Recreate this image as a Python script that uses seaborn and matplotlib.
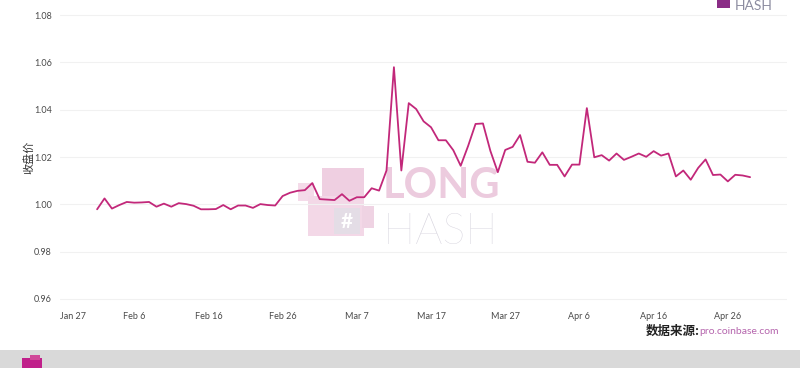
import matplotlib
matplotlib.use("Agg")
import matplotlib.pyplot as plt
import matplotlib.dates as mdates
from matplotlib.patches import Rectangle
import seaborn as sns
import pandas as pd

# -----------------------------
# data (daily close)
# -----------------------------
start_date = "2020-02-01"
end_date = "2020-04-29"
close_price = [
    0.9979, 1.0025, 0.9982, 0.9997, 1.0010, 1.0007, 1.0008, 1.0010, 0.9990, 1.0003,
    0.9990, 1.0005, 1.0001, 0.9994, 0.9979, 0.9979, 0.9980, 0.9997, 0.9979, 0.9995,
    0.9995, 0.9985, 1.0001, 0.9997, 0.9995, 1.0035, 1.0049, 1.0057, 1.0060, 1.0090,
    1.0022, 1.0020, 1.0018, 1.0043, 1.0015, 1.0030, 1.0030, 1.0068, 1.0058, 1.0143,
    1.0580, 1.0143, 1.0428, 1.0403, 1.0351, 1.0326, 1.0271, 1.0271, 1.0229, 1.0163,
    1.0247, 1.0340, 1.0342, 1.0226, 1.0136, 1.0230, 1.0243, 1.0293, 1.0180, 1.0176,
    1.0220, 1.0167, 1.0167, 1.0118, 1.0168, 1.0168, 1.0407, 1.0199, 1.0208, 1.0185,
    1.0215, 1.0188, 1.0201, 1.0215, 1.0201, 1.0225, 1.0206, 1.0215, 1.0118, 1.0143,
    1.0104, 1.0154, 1.0190, 1.0124, 1.0126, 1.0097, 1.0125, 1.0122, 1.0115,
]
y_ticks = [0.96, 0.98, 1.00, 1.02, 1.04, 1.06, 1.08]
x_tick_dates = ["2020-01-27", "2020-02-06", "2020-02-16", "2020-02-26", "2020-03-07",
                "2020-03-17", "2020-03-27", "2020-04-06", "2020-04-16", "2020-04-26"]

df = pd.DataFrame({"date": pd.date_range(start_date, end_date, freq="D"),
                   "price": close_price})

sns.set_theme(style="white")
plt.rcParams["font.family"] = ["Lato", "Noto Sans CJK SC", "DejaVu Sans"]
CJK = ["Noto Sans CJK SC", "DejaVu Sans"]

fig = plt.figure(figsize=(8, 3.68), dpi=100)
ax = fig.add_axes([0.075, 0.1685, 0.909, 0.8095])
ax.set_zorder(5)
ax.set_facecolor("none")


def px_rect(x0, y0, w, h, color, z=0):
    # rectangle given in picture pixels (top-left origin)
    fig.patches.append(Rectangle((x0 / 800, 1 - (y0 + h) / 368), w / 800, h / 368,
                                 transform=fig.transFigure, color=color, zorder=z,
                                 linewidth=0))


# -----------------------------
# watermark (behind the line)
# -----------------------------
for (x0, y0, w, h, c) in [(298, 183, 16, 18, "#f4dbe9"), (322, 168, 42, 30, "#efcfe1"),
                          (308, 196, 56, 40, "#f3d8e7"), (362, 206, 12, 22, "#efd3e3"),
                          (334, 208, 26, 26, "#e4dde6")]:
    px_rect(x0, y0, w, h, c)
fig.text(347 / 800, 1 - 222 / 368, "#", color="#ffffff", fontsize=15,
         fontweight="bold", ha="center", va="center", zorder=1)
fig.text(383 / 800, 1 - 198 / 368, "LONG", color="#eccbde", fontsize=30,
         fontweight="bold", ha="left", va="baseline", zorder=1)
fig.text(383 / 800, 1 - 244 / 368, "HASH", color="#d6d3dd", fontsize=31,
         fontweight="light", ha="left", va="baseline", zorder=1)

# -----------------------------
# line
# -----------------------------
sns.lineplot(data=df, x="date", y="price", color="#c2287a", linewidth=1.3, ax=ax)

ax.set_ylim(0.957, 1.083)
ax.set_xlim(pd.Timestamp("2020-01-27"), pd.Timestamp("2020-05-04"))
ax.set_yticks(y_ticks)
ax.set_yticklabels([f"{v:.2f}" for v in y_ticks])
ax.set_xticks(pd.to_datetime(x_tick_dates))
ax.xaxis.set_major_formatter(mdates.DateFormatter("%b %-d"))
ax.tick_params(axis="both", length=0, labelsize=6.5, labelcolor="#4a4a4a")
ax.tick_params(axis="y", pad=6)
ax.tick_params(axis="x", pad=4)
ax.get_xticklabels()[0].set_ha("left")
ax.yaxis.grid(True, color="#f1f1f1", linewidth=0.8)
ax.xaxis.grid(False)
for s in ax.spines.values():
    s.set_visible(False)
ax.set_xlabel("")
ax.set_ylabel("收盘价", family=CJK, fontsize=8, color="#333333", labelpad=0)

# -----------------------------
# source + branding
# -----------------------------
fig.text(779 / 800, 1 - 331 / 368, "pro.coinbase.com", fontsize=7.5,
         color="#b565ad", ha="right", va="center")
fig.text(700 / 800, 1 - 331 / 368, "数据来源:", family=CJK, fontsize=9,
         fontweight="bold", color="#222222", ha="right", va="center")

px_rect(0, 350, 800, 18, "#d9d9d9")
px_rect(22, 358, 20, 10, "#c0208a", z=1)
px_rect(30, 355, 10, 5, "#d04898", z=1)
fig.text(735 / 800, 1.0, "HASH", fontsize=10, color="#8c8ca0",
         ha="left", va="top")
px_rect(717, 0, 13, 8, "#8a2c86", z=1)

fig.savefig("out.png", dpi=100)
